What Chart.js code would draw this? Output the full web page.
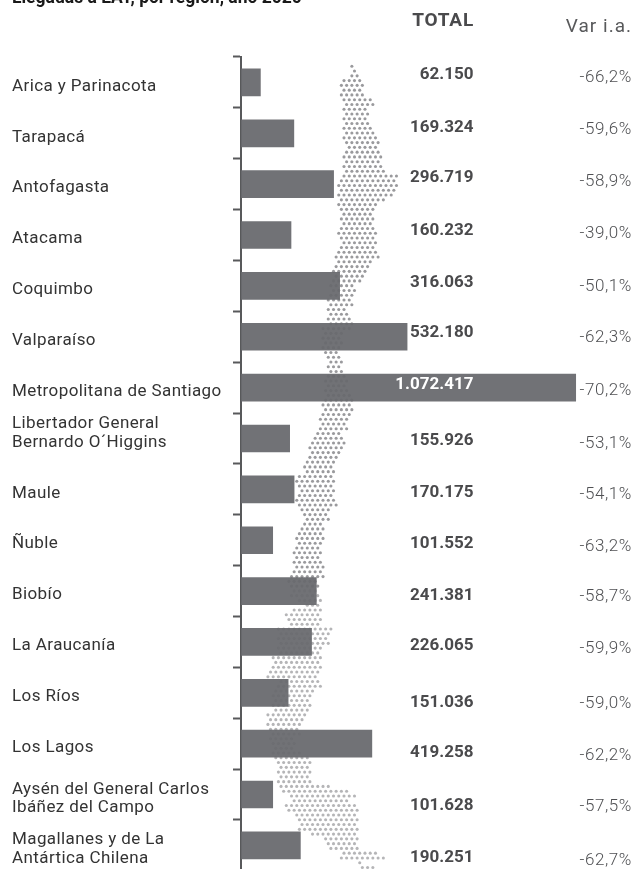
<!DOCTYPE html>
<html><head><meta charset="utf-8">
<style>html,body{margin:0;padding:0;background:#fff;overflow:hidden;width:637px;height:869px}canvas{display:block}</style>
<script src="https://cdn.jsdelivr.net/npm/chart.js@4"></script></head>
<body><canvas id="c" width="637" height="880"></canvas>
<script>
const titleText = 'Llegadas a EAT, por región, año 2020';
const categories = [
  'Arica y Parinacota','Tarapacá','Antofagasta','Atacama','Coquimbo','Valparaíso',
  'Metropolitana de Santiago',['Libertador General','Bernardo O´Higgins',''],'Maule','Ñuble','Biobío',
  'La Araucanía','Los Ríos','Los Lagos',['Aysén del General Carlos','Ibáñez del Campo'],
  ['Magallanes y de La','Antártica Chilena']
];
const totals = [62150,169324,296719,160232,316063,532180,1072417,155926,170175,101552,241381,226065,151036,419258,101628,190251];
const varLabels = ['-66,2%','-59,6%','-58,9%','-39,0%','-50,1%','-62,3%','-70,2%','-53,1%','-54,1%','-63,2%','-58,7%','-59,9%','-59,0%','-62,2%','-57,5%','-62,7%'];
const totalNudge = [-7.5,-6,-6,-4,-3,-4,-3,2,3,4,5,4,10,9,11,12];
const varNudge = [-4.5,-4,-2,-1,1,1,3.5,5,5,7,6,7,10.5,12,12,15];
// silhouette of Chile behind the bars: left / right edge of each dotted row, in map units
const mapLeft = [349,352,349,340,340,340,341,343,345,344,345,345,345,343,344,343,345,347,345,343,345,343,344,342,338,337,338,339,338,338,340,340,341,
 342,340,338,339,340,338,338,335,335,337,333,333,332,330,330,328,325,327,327,328,328,328,323,323,323,323,323,326,327,327,327,
 327,327,326,325,325,324,323,
 323,322,322,320,319,317,314,313,312,310,309,307,305,302,303,295,297,298,300,298,297,298,300,302,303,302,300,297,295,295,295,293,293,
 293,293,290,290,288,290,290,290,297,303,292,285,285,290,278,280,278,277,275,277,273,275,270,267,268,277,277,273,272,272,270,272,
 268,267,268,270,269,270,270,271,273,275,277,277,275,277,278,278,280,292,293,285,288,293,297,298,298,310,322,325,327,340,340,357,363];
const mapRight = [356,359,361,363,365,363,365,373,375,370,373,370,370,373,375,378,380,378,380,383,383,386,385,402,400,400,398,395,390,382,375,373,375,
 373,376,377,377,377,377,380,382,372,370,368,365,362,358,357,355,355,355,350,352,353,353,353,347,345,343,340,342,345,347,345,
 347,348,350,350,352,352,353,
 353,355,355,352,350,348,345,347,348,347,345,342,337,333,335,335,335,333,335,337,338,338,332,330,330,325,327,323,325,322,323,322,322,
 323,325,323,325,320,320,320,320,323,322,325,323,323,323,332,330,328,330,325,323,323,323,322,322,320,320,322,318,313,313,313,312,
 310,307,303,302,302,297,297,297,300,313,313,313,313,308,315,333,352,357,350,360,360,360,360,360,360,360,360,360,360,380,385,363,375];
const mapTop = 66.3, mapRowGap = 4.77, mapDotGap = 5.3, mapFadeFrom = 590;
const mapDots = [];
mapLeft.forEach((l,i)=>{
  const y = mapTop + i*mapRowGap;
  const shift = i%2 ? mapDotGap/2 : 0;
  for (let k=Math.ceil((l-shift-300)/mapDotGap); 300+shift+k*mapDotGap<=mapRight[i]; k++) {
    mapDots.push({x:300+shift+k*mapDotGap, y});
  }
});

const textLayer = {
  id:'textLayer',
  beforeDraw(chart){ chart.ctx.letterSpacing='0.4px'; },
  afterDraw(chart){
    const {ctx, scales:{y}} = chart;
    ctx.save();
    ctx.textBaseline='middle'; ctx.textAlign='right';
    ctx.font='700 19px Roboto'; ctx.fillStyle='#4a4a4c'; ctx.letterSpacing='0.8px';
    ctx.fillText('TOTAL',474,21);
    ctx.font='400 19px Roboto'; ctx.fillStyle='#58595b'; ctx.letterSpacing='1px';
    ctx.fillText('Var i.a.',632,27);
    totals.forEach((v,i)=>{
      const py = y.getPixelForValue(i);
      ctx.font='700 17px Roboto'; ctx.letterSpacing='0px';
      ctx.fillStyle = i===6 ? '#ffffff' : '#4a4a4c';
      ctx.fillText(String(v).replace(/\B(?=(\d{3})+$)/g,'.'),473.5,py+totalNudge[i]);
      ctx.font='300 17px Roboto'; ctx.letterSpacing='0.6px'; ctx.fillStyle='#4f5053';
      ctx.fillText(varLabels[i],632,py+varNudge[i]);
    });
    ctx.textAlign='left'; ctx.textBaseline='alphabetic';
    ctx.font='700 17.5px Roboto'; ctx.letterSpacing='0px'; ctx.fillStyle='#1a1a1a';
    ctx.fillText(titleText,12,3);
    ctx.restore();
  }
};

new Chart(document.getElementById('c'),{
  type:'bar',
  data:{labels:categories,datasets:[
    {type:'bar',label:'Llegadas',data:totals,xAxisID:'x',yAxisID:'y',backgroundColor:'rgba(104,105,109,0.94)',barThickness:27,grouped:false,order:1},
    {type:'scatter',label:'Mapa',indexAxis:'x',data:mapDots,xAxisID:'mapX',yAxisID:'mapY',pointRadius:1.55,pointBorderWidth:0,
     pointBackgroundColor:c=>(c.raw && c.raw.y>mapFadeFrom)?'rgba(120,120,124,0.55)':'rgba(120,120,124,0.75)',order:2}
  ]},
  plugins:[textLayer],
  options:{
    indexAxis:'y',responsive:false,animation:false,
    layout:{padding:{left:12,right:0,top:57,bottom:9}},
    plugins:{legend:{display:false},tooltip:{enabled:false},title:{display:false}},
    scales:{
      x:{display:false,min:0,max:1256000},
      mapX:{display:false,axis:'x',type:'linear',min:241,max:637,offset:false},
      mapY:{display:false,axis:'y',type:'linear',min:57,max:871,reverse:true,offset:false},
      y:{type:'category',position:'left',offset:true,
        afterFit(s){s.width=229;},
        border:{color:'#58595b',width:2},
        grid:{drawOnChartArea:false,drawTicks:true,tickLength:8,tickWidth:2,tickColor:'#58595b',offset:true},
        ticks:{crossAlign:'far',padding:0,labelOffset:4,autoSkip:false,color:'#333',font:{family:'Roboto',size:17,lineHeight:1.08}}
      }
    }
  }
});
</script></body></html>
